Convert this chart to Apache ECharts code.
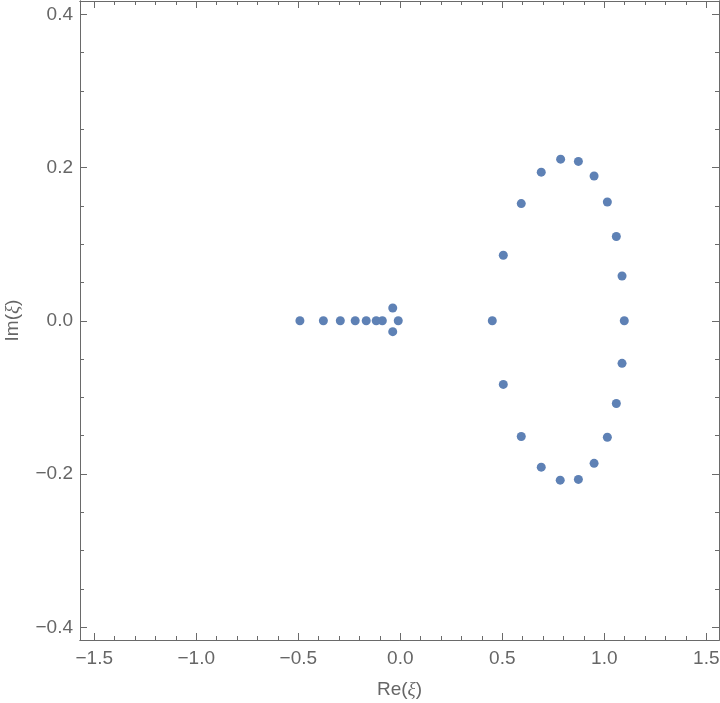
<!DOCTYPE html>
<html>
<head>
<meta charset="utf-8">
<script src="https://cdn.jsdelivr.net/npm/echarts@6/dist/echarts.min.js"></script>
<style>html,body{margin:0;padding:0;background:#fff}#c{width:720px;height:703px}</style>
</head>
<body>
<div id="c"></div>
<script>
const reVals = [-0.492, -0.377, -0.294, -0.221, -0.167, -0.118, -0.088, -0.037, -0.037, -0.010,
  0.451, 0.505, 0.593, 0.691, 0.786, 0.873, 0.950, 1.015, 1.059, 1.087, 1.098,
  0.505, 0.593, 0.691, 0.784, 0.873, 0.950, 1.015, 1.059, 1.087];
const imVals = [0, 0, 0, 0, 0, 0, 0, 0.0167, -0.0142, 0,
  0, 0.0855, 0.153, 0.194, 0.211, 0.208, 0.189, 0.155, 0.110, 0.0585, 0,
  -0.083, -0.151, -0.191, -0.208, -0.207, -0.186, -0.152, -0.108, -0.0555];

const xMajor = [-1.5, -1.0, -0.5, 0.0, 0.5, 1.0, 1.5];
const xMinor = [-1.4, -1.3, -1.2, -1.1, -0.9, -0.8, -0.7, -0.6, -0.4, -0.3, -0.2, -0.1,
  0.1, 0.2, 0.3, 0.4, 0.6, 0.7, 0.8, 0.9, 1.1, 1.2, 1.3, 1.4];
const yMajor = [-0.4, -0.2, 0.0, 0.2, 0.4];
const yMinor = [-0.35, -0.3, -0.25, -0.15, -0.1, -0.05, 0.05, 0.1, 0.15, 0.25, 0.3, 0.35];

const xRange = [-1.570, 1.5623];
const yRange = [-0.4166, 0.4174];

const frameColor = '#6a6a6a';
const textColor = '#666666';
const fmt = v => (v < 0 ? '\u2212' : '') + Math.abs(v).toFixed(1);

function axis(kind, pos, ticks, len, withLabel, name) {
  const range = kind === 'x' ? xRange : yRange;
  const a = {
    type: 'value', position: pos, min: range[0], max: range[1],
    splitLine: {show: false},
    axisLine: {show: true, onZero: false, lineStyle: {color: frameColor, width: 1}},
    axisTick: {show: true, inside: true, length: len, customValues: ticks,
      lineStyle: {color: frameColor, width: 1}},
    axisLabel: {show: withLabel, customValues: ticks, formatter: fmt,
      color: textColor, fontSize: 19, fontFamily: 'Liberation Sans, Arial, sans-serif',
      margin: kind === 'x' ? 9 : 7},
    minorTick: {show: false}
  };
  if (name) {
    a.name = name;
    a.nameLocation = 'middle';
    a.nameGap = kind === 'x' ? 40 : 58;
    if (kind === 'y') a.nameRotate = 90;
    a.nameTextStyle = {color: textColor, fontSize: 19, fontFamily: 'Liberation Sans, Arial, sans-serif',
      rich: {i: {fontStyle: 'italic', fontSize: 19, color: textColor, fontFamily: 'Liberation Serif, serif'}}};
  }
  return a;
}

const chart = echarts.init(document.getElementById('c'));
chart.setOption({
  animation: false,
  backgroundColor: '#ffffff',
  grid: {left: 80, right: 1, top: 1, bottom: 63, containLabel: false, outerBoundsMode: 'none'},
  xAxis: [
    axis('x', 'bottom', xMajor, 7, true, 'Re({i|\u03BE})'),
    axis('x', 'bottom', xMinor, 4, false),
    axis('x', 'top', xMajor, 7, false),
    axis('x', 'top', xMinor, 4, false)
  ],
  yAxis: [
    axis('y', 'left', yMajor, 7, true, 'Im({i|\u03BE})'),
    axis('y', 'left', yMinor, 4, false),
    axis('y', 'right', yMajor, 7, false),
    axis('y', 'right', yMinor, 4, false)
  ],
  series: [{
    type: 'scatter',
    xAxisIndex: 0, yAxisIndex: 0,
    symbolSize: 9,
    itemStyle: {color: '#5e81b5', opacity: 1},
    data: reVals.map((r, i) => [r, imVals[i]])
  }]
});
</script>
</body>
</html>
